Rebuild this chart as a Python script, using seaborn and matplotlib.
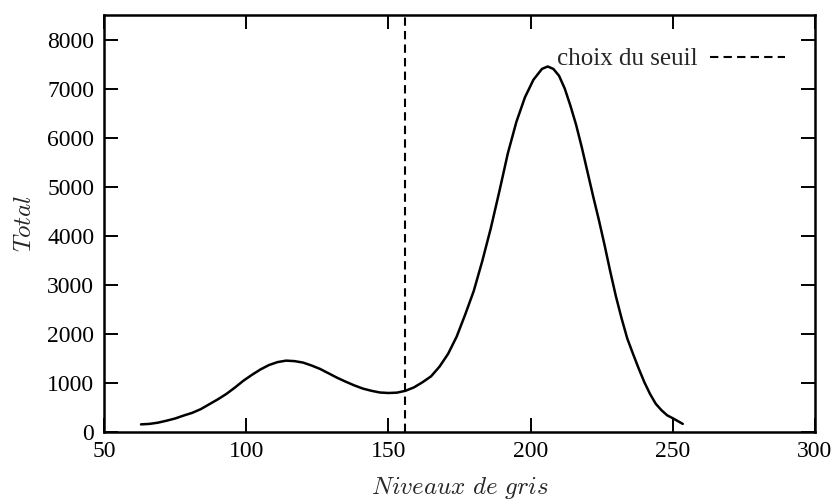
import numpy as np
import pandas as pd
import matplotlib
matplotlib.use('Agg')
import matplotlib.pyplot as plt
import seaborn as sns

# Histogram profile (grey levels vs total)
niveaux = [63, 66, 69, 72, 75, 78, 81, 84, 87, 90, 93, 96, 99, 102, 105, 108,
           111, 114, 117, 120, 123, 126, 129, 132, 135, 138, 141, 144, 147, 150,
           153, 156, 159, 162, 165, 168, 171, 174, 177, 180, 183, 186, 189, 192,
           195, 198, 201, 204, 206, 208, 210, 212, 214, 216, 218, 220, 222, 224,
           226, 228, 230, 232, 234, 236, 238, 240, 242, 244, 246, 248, 250, 253.5]
total = [150, 160, 185, 225, 270, 330, 385, 460, 560, 660, 770, 900, 1040, 1160,
         1270, 1360, 1420, 1450, 1440, 1410, 1350, 1280, 1190, 1100, 1020, 945,
         880, 835, 800, 790, 797, 835, 905, 1010, 1130, 1330, 1590, 1940, 2390,
         2870, 3480, 4150, 4900, 5680, 6320, 6820, 7180, 7400, 7450, 7400, 7260,
         7000, 6650, 6260, 5800, 5300, 4800, 4320, 3810, 3270, 2760, 2310, 1900,
         1590, 1290, 1010, 770, 570, 440, 335, 275, 160]
seuil = 156
x_ticks = [50, 100, 150, 200, 250, 300]
y_ticks = [0, 1000, 2000, 3000, 4000, 5000, 6000, 7000, 8000]

sns.set_theme(style='ticks')
plt.rcParams['font.family'] = ['Liberation Serif', 'DejaVu Serif']
plt.rcParams['mathtext.fontset'] = 'cm'

df = pd.DataFrame({'niveau': niveaux, 'total': total})

fig = plt.figure(figsize=(8.37, 5.03), dpi=100)
ax = fig.add_axes([0.1243, 0.1417, 0.8494, 0.8285])

sns.lineplot(data=df, x='niveau', y='total', color='black', linewidth=1.8, ax=ax)
ax.axvline(seuil, color='black', linestyle=(0, (4, 2.5)), linewidth=1.5,
           label='choix du seuil')

ax.set_xlim(50, 300)
ax.set_ylim(0, 8500)
ax.set_xticks(x_ticks)
ax.set_yticks(y_ticks)
ax.tick_params(direction='in', length=10, width=1.4, top=True, right=True,
               labelsize=17, pad=7, colors='black')
ax.tick_params(axis='x', labeltop=False)
ax.tick_params(axis='y', labelright=False)
for s in ax.spines.values():
    s.set_linewidth(1.8)
    s.set_color('black')

ax.set_xlabel(r'$Niveaux\ de\ gris$', fontsize=18, labelpad=9)
ax.set_ylabel(r'$Total$', fontsize=18, labelpad=8)

ax.legend(loc='upper right', bbox_to_anchor=(0.99, 0.975), frameon=False,
          markerfirst=False, fontsize=18, handlelength=3.0, handletextpad=0.5)

fig.savefig('out.png', dpi=100)
